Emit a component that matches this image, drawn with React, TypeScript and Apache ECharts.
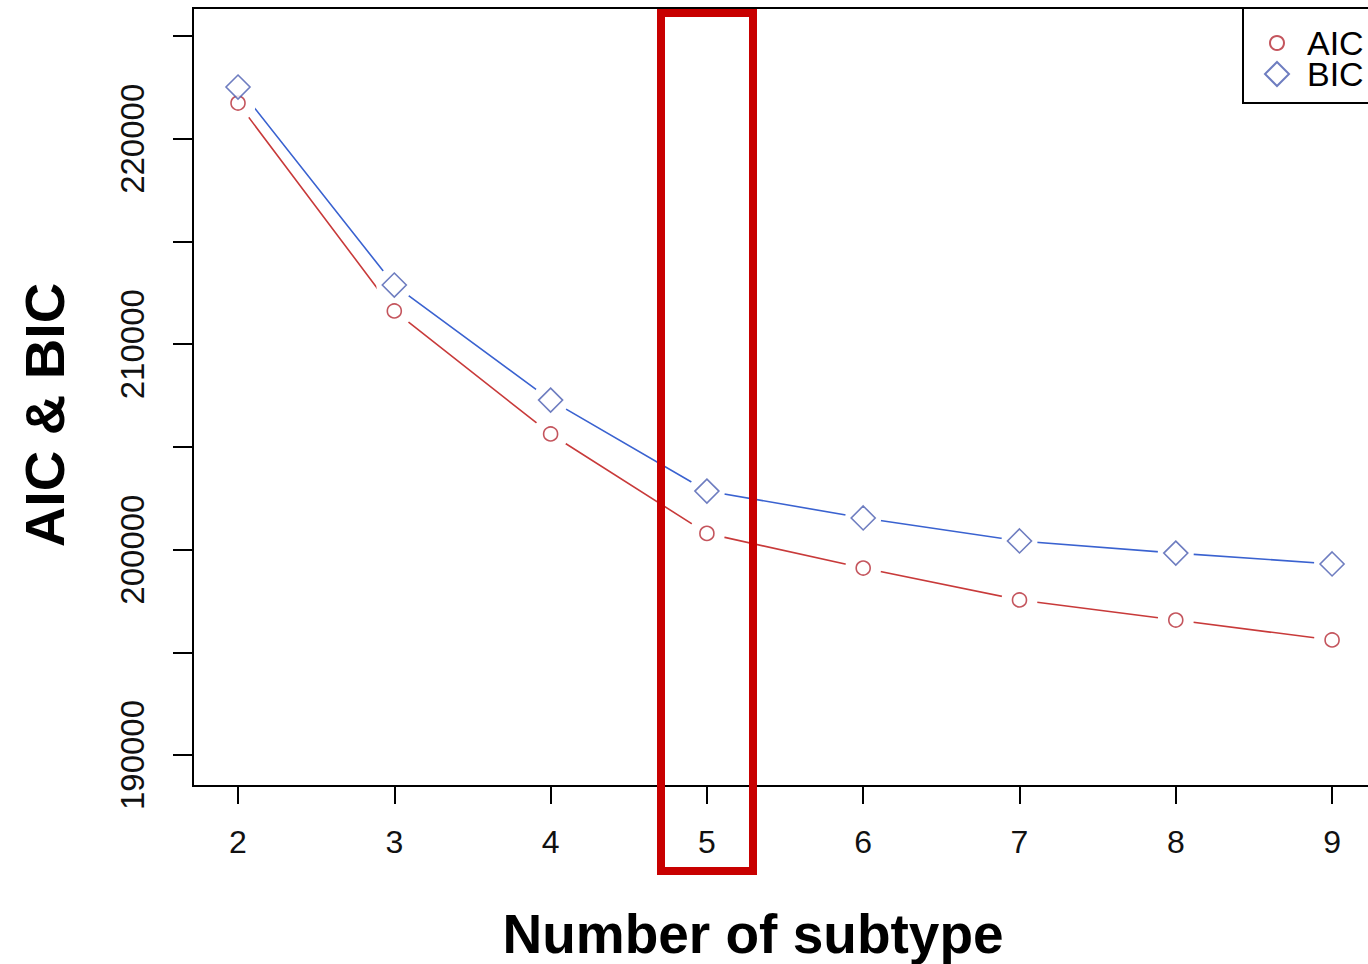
import React, { useEffect, useRef } from "react";
import * as echarts from "echarts";

const subtypes = [2, 3, 4, 5, 6, 7, 8, 9];
const aicValues = [221740, 211620, 205630, 200790, 199100, 197550, 196570, 195600];
const bicValues = [222520, 212880, 207280, 202850, 201540, 200420, 199830, 199300];
const yTickValues = [190000, 195000, 200000, 205000, 210000, 215000, 220000, 225000];
const yLabelValues = [190000, 200000, 210000, 220000];
const xTickValues = [2, 3, 4, 5, 6, 7, 8, 9];

const FONT = "'Liberation Sans', Arial, sans-serif";
const RED_LINE = "#c83a3a";
const RED_SYM = "#b52a35";
const BLUE_LINE = "#3a62d0";
const BLUE_SYM = "#4a5db0";

export default function App() {
  const ref = useRef<HTMLDivElement>(null);
  useEffect(() => {
    if (!ref.current) return;
    const chart = echarts.init(ref.current, null, { renderer: "svg" });
    const aicPts = subtypes.map((x, i) => [x, aicValues[i]]);
    const bicPts = subtypes.map((x, i) => [x, bicValues[i]]);
    chart.setOption({
      animation: false,
      backgroundColor: "#fff",
      grid: {
        left: 193,
        top: 8,
        right: -8,
        bottom: 178,
        show: true,
        borderColor: "#000",
        borderWidth: 2,
        backgroundColor: "transparent",
        containLabel: false,
        outerBoundsMode: "none",
      },
      xAxis: {
        type: "value",
        min: 1.712,
        max: 9.281,
        splitLine: { show: false },
        axisLine: { show: true, lineStyle: { color: "#000", width: 2 } },
        axisTick: {
          show: true,
          length: 18,
          customValues: xTickValues,
          lineStyle: { color: "#000", width: 2 },
        },
        axisLabel: {
          customValues: xTickValues,
          margin: 40,
          fontSize: 32,
          fontFamily: FONT,
          color: "#111",
          formatter: (v: number) => String(v),
        },
      },
      yAxis: {
        type: "value",
        min: 188491,
        max: 226368,
        splitLine: { show: false },
        axisLine: { show: true, lineStyle: { color: "#000", width: 2 } },
        axisTick: {
          show: true,
          length: 20,
          customValues: yTickValues,
          lineStyle: { color: "#000", width: 2 },
        },
        axisLabel: {
          customValues: yLabelValues,
          rotate: 90,
          margin: 44,
          fontSize: 33,
          fontFamily: FONT,
          color: "#111",
          formatter: (v: number) => String(v),
        },
      },
      legend: [
        {
          data: ["AIC"],
          left: 1269,
          top: 26,
          padding: 0,
          itemWidth: 14,
          itemHeight: 14,
          selectedMode: false,
          textStyle: {
            fontSize: 34,
            lineHeight: 30,
            fontFamily: FONT,
            color: "#000",
            padding: [0, 0, 0, 18],
          },
          z: 6,
        },
        {
          data: ["BIC"],
          left: 1264,
          top: 57,
          padding: 0,
          itemWidth: 24,
          itemHeight: 24,
          selectedMode: false,
          textStyle: {
            fontSize: 34,
            lineHeight: 30,
            fontFamily: FONT,
            color: "#000",
            padding: [0, 0, 0, 13],
          },
          z: 6,
        },
      ],
      series: [
        {
          name: "AIC line",
          type: "line",
          data: aicPts,
          showSymbol: false,
          symbol: "none",
          lineStyle: { color: RED_LINE, width: 1.6 },
          z: 2,
        },
        {
          name: "BIC line",
          type: "line",
          data: bicPts,
          showSymbol: false,
          symbol: "none",
          lineStyle: { color: BLUE_LINE, width: 1.6 },
          z: 2,
        },
        {
          name: "mask",
          type: "scatter",
          data: [...aicPts, ...bicPts],
          symbol: "circle",
          symbolSize: 36,
          itemStyle: { color: "#fff", opacity: 1 },
          silent: true,
          z: 3,
        },
        {
          name: "AIC",
          type: "scatter",
          data: aicPts,
          symbol: "circle",
          symbolSize: 14,
          itemStyle: { color: "#fff", borderColor: RED_SYM, borderWidth: 1.6 },
          z: 4,
        },
        {
          name: "BIC",
          type: "scatter",
          data: bicPts,
          symbol: "diamond",
          symbolSize: 24,
          itemStyle: { color: "#fff", borderColor: BLUE_SYM, borderWidth: 1.6 },
          z: 4,
        },
      ],
      graphic: [
        {
          type: "rect",
          z: 5,
          shape: { x: 1243, y: 8, width: 140, height: 95 },
          style: { fill: "#fff", stroke: "#000", lineWidth: 2 },
        },
        {
          type: "rect",
          z: 100,
          shape: { x: 661, y: 13, width: 92, height: 858 },
          style: { fill: "none", stroke: "#c80000", lineWidth: 8 },
        },
        {
          type: "text",
          z: 10,
          x: 753,
          y: 934,
          style: {
            text: "Number of subtype",
            font: `bold 55px ${FONT}`,
            fill: "#000",
            align: "center",
            verticalAlign: "middle",
            textAlign: "center",
            textVerticalAlign: "middle",
          },
        },
        {
          type: "text",
          z: 10,
          x: 44,
          y: 415,
          rotation: Math.PI / 2,
          style: {
            text: "AIC & BIC",
            font: `bold 56px ${FONT}`,
            fill: "#000",
            align: "center",
            verticalAlign: "middle",
            textAlign: "center",
            textVerticalAlign: "middle",
          },
        },
      ],
    });
    return () => chart.dispose();
  }, []);
  return (
    <div
      ref={ref}
      style={{ position: "absolute", left: 0, top: 0, width: 1368, height: 964 }}
    />
  );
}
